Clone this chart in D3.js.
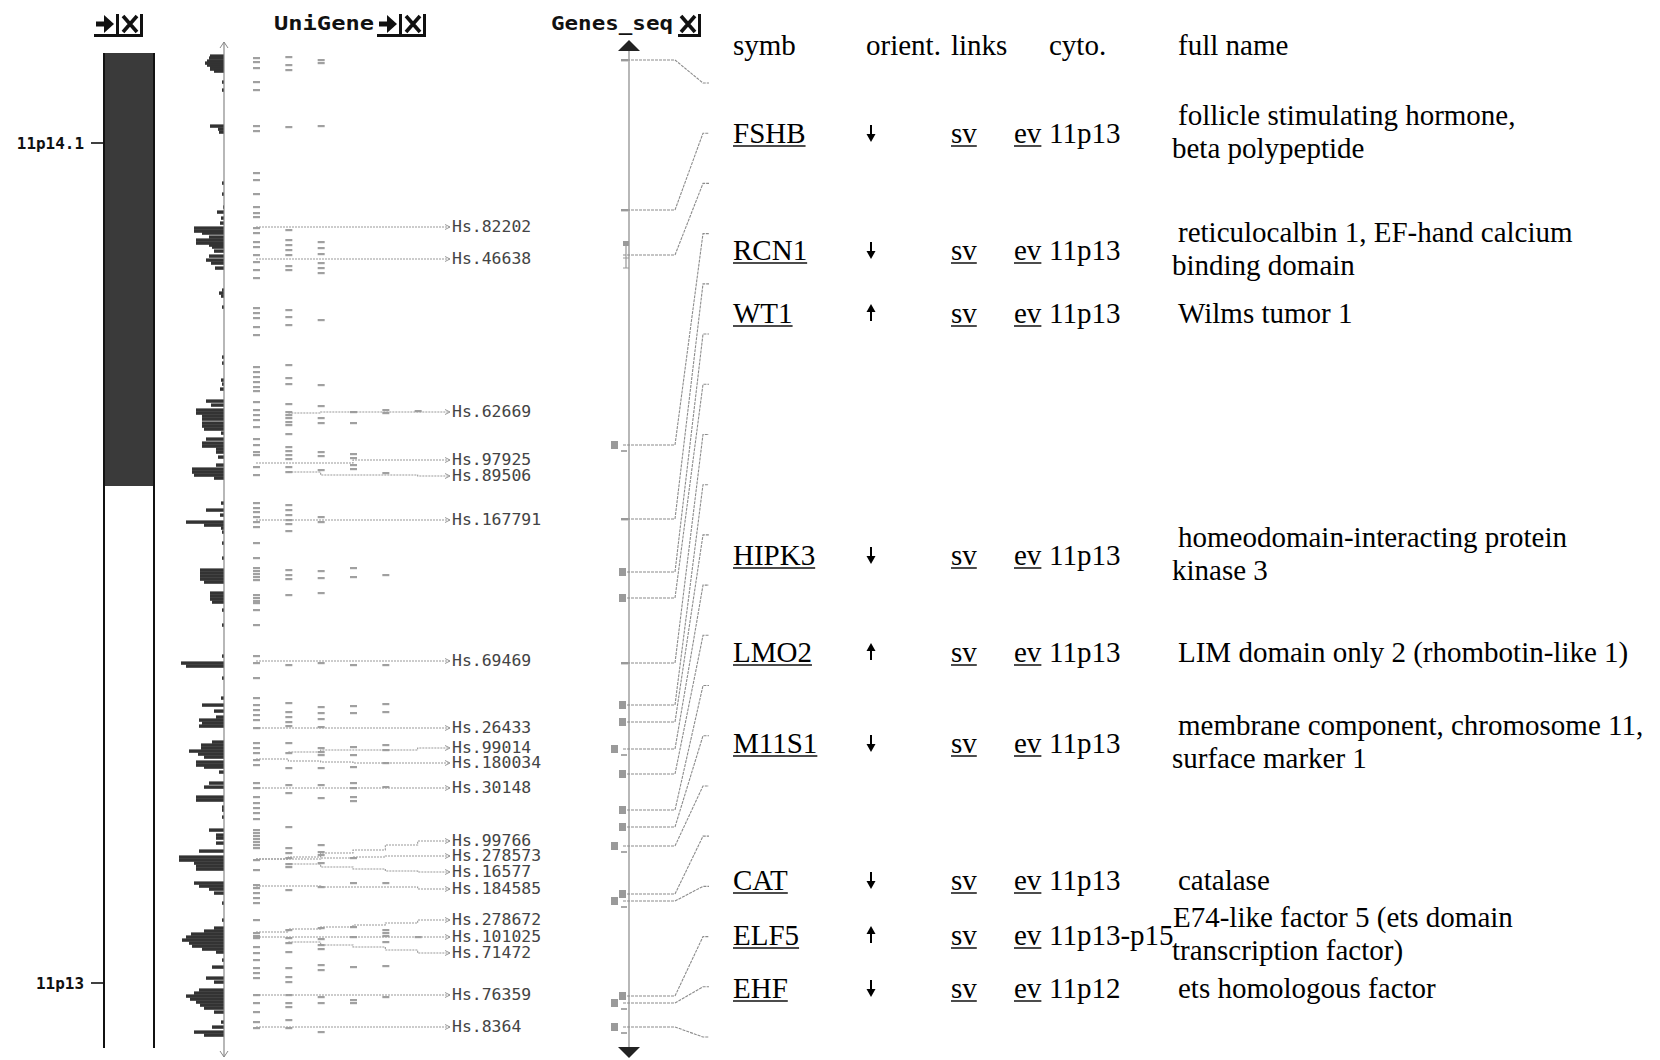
<!DOCTYPE html>
<html><head><meta charset="utf-8">
<script src="https://cdn.jsdelivr.net/npm/d3@7/dist/d3.min.js"></script>
<style>body{margin:0;background:#fff}svg{display:block}</style>
</head><body>
<svg id="c" width="1660" height="1060"></svg>
<script>
// ---------------- DATA (positions in map units along the region, top = 0) -------------
const chromStart = 11, chromEnd = 1006, darkBandEnd = 444;
const bandLabels = [{name: "11p14.1", pos: 101}, {name: "11p13", pos: 941}];

// EST density histogram: [position, count]
const estHistogram = [
 [14,14],[16,15],[19,17],[21,19],[23,17],[25,14],[27,14],[29,10],[40,2],[48,2],
 [84,14],[87,6],[90,5],[141,2],[152,2],[165,1],[170,7],[176,3],[181,4],
 [186,30],[189,30],[191,22],[195,15],[198,28],[201,28],[203,15],[205,12],[209,10],[214,15],[218,18],[221,13],[226,9],
 [248,2],[251,5],[254,3],[265,2],[315,2],[321,2],
 [338,3],[342,2],[347,4],[359,18],[363,13],[368,28],[371,28],[374,22],[377,22],[381,22],[384,22],[387,20],[391,3],
 [397,18],[401,22],[404,22],[407,8],[410,8],[415,6],[423,8],[427,32],[430,32],[433,30],[436,10],
 [461,3],[468,18],[473,4],[480,38],[483,20],[486,3],[490,2],[501,2],[516,2],
 [528,24],[531,24],[534,24],[537,24],[540,20],[551,14],[554,14],[557,14],[560,12],[568,2],[583,2],
 [614,2],[621,43],[624,38],[636,2],[656,3],[663,22],[669,10],[675,8],
 [678,25],[681,22],[684,25],[700,12],[703,23],[706,23],[709,35],[712,26],[715,20],[720,28],[723,28],[725,20],[730,5],
 [741,15],[745,20],[755,28],[758,28],[765,2],[768,2],[775,2],
 [788,15],[793,8],[796,8],[801,8],[809,25],[815,45],[818,45],[821,30],[824,28],[827,28],
 [841,30],[844,25],[847,15],[851,10],[861,2],[878,2],
 [886,10],[889,20],[892,33],[895,38],[898,42],[901,35],[904,32],[907,22],[910,8],
 [918,2],[925,12],[936,18],[940,10],
 [948,25],[951,30],[954,38],[957,34],[960,28],[963,24],[966,20],[970,10],
 [980,3],[985,12],[990,30],[993,20]
];

// UniGene exon-alignment marks, one list per column
const ugCol0 = [16,20,26,40,48,84,89,131,138,152,165,171,175,186,191,200,205,213,220,228,236,266,271,276,285,293,
 325,330,335,340,345,349,360,368,373,378,385,397,403,410,413,425,433,461,466,470,475,480,485,501,516,
 526,529,532,535,538,553,556,559,561,568,583,614,621,636,656,663,668,673,678,686,701,706,711,718,723,
 741,746,755,761,766,771,777,788,791,794,797,800,803,806,818,828,843,846,851,856,861,878,891,894,896,
 905,911,918,926,931,936,953,961,970,980,986];
const ugCol1 = [15,23,28,85,188,198,203,208,213,224,228,268,275,283,323,336,342,362,370,373,376,380,383,392,
 405,409,413,417,425,430,463,468,473,478,482,489,528,533,537,553,623,661,670,675,680,684,701,711,726,
 743,751,785,806,811,816,822,825,848,888,896,901,910,926,935,940,953,961,965,978,986];
const ugCol2 = [18,21,84,200,206,212,221,226,231,278,343,364,376,381,410,414,428,475,480,529,536,551,621,
 665,671,677,685,706,710,713,726,743,756,803,810,813,821,845,886,897,903,907,923,928,955,961,990];
const ugCol3 = [370,381,412,416,423,427,526,535,623,664,671,705,713,725,741,746,755,759,816,841,885,895,925,958,961];
const ugCol4 = [368,371,431,533,623,662,670,703,708,721,745,841,888,891,894,900,924,955];
const ugCol5 = [369,895];
const ugColumns = [ugCol0, ugCol1, ugCol2, ugCol3, ugCol4, ugCol5];

// UniGene clusters: label and the track position of each of the 6 segments (null = no alignment)
const clusterNames = ["Hs.82202","Hs.46638","Hs.62669","Hs.97925","Hs.89506","Hs.167791","Hs.69469",
 "Hs.26433","Hs.99014","Hs.180034","Hs.30148","Hs.99766","Hs.278573","Hs.16577","Hs.184585",
 "Hs.278672","Hs.101025","Hs.71472","Hs.76359","Hs.8364"];
const clusterSegments = [
 [185,185,185,185,185,185],
 [217,217,217,217,217,217],
 [null,371,370,370,370,370],
 [421,421,421,418,418,418],
 [null,430,433,433,433,434],
 [478,478,478,478,478,478],
 [619,619,619,619,619,619],
 [686,686,686,686,686,686],
 [null,710,708,708,708,706],
 [717,719,720,721,721,721],
 [746,746,746,746,746,746],
 [817,815,811,808,803,799],
 [817,817,816,815,814,814],
 [null,822,825,827,829,830],
 [844,844,845,845,845,847],
 [890,887,885,883,881,878],
 [895,895,895,895,895,895],
 [null,900,903,905,908,911],
 [953,953,953,953,953,953],
 [985,985,985,985,985,985]
];

// Genes_seq features: track position, glyph type; each links to a label slot in order
const geneFeatPos  = [18,168,213,403,477,530,556,621,663,680,707,732,768,785,804,852,859,954,961,985];
const geneFeatType = [0,0,3,2,0,1,1,0,1,1,2,1,1,1,2,1,2,1,2,2];

// Gene table
const tableHeaders = ["symb","orient.","links","cyto.","full name"];
const geneSymbols = ["FSHB","RCN1","WT1","HIPK3","LMO2","M11S1","CAT","ELF5","EHF"];
const geneOrient  = ["down","down","up","down","up","down","down","up","down"];
const geneCyto    = ["11p13","11p13","11p13","11p13","11p13","11p13","11p13","11p13-p15","11p12"];
const geneFullName = [
 ["follicle stimulating hormone,","beta polypeptide"],
 ["reticulocalbin 1, EF-hand calcium","binding domain"],
 ["Wilms tumor 1"],
 ["homeodomain-interacting protein","kinase 3"],
 ["LIM domain only 2 (rhombotin-like 1)"],
 ["membrane component, chromosome 11,","surface marker 1"],
 ["catalase"],
 ["E74-like factor 5 (ets domain","transcription factor)"],
 ["ets homologous factor"]
];
const geneRowPos = [91,208,271,513,610,701,838,893,946];

// ---------------- DRAWING ----------------
const svg = d3.select("#c");
const y = d3.scaleLinear().domain([0, 1015]).range([42, 1057]);

// track headers
const mono = "'DejaVu Sans Mono', monospace";
function closeIcon(x0, withArrow){
  const g = svg.append("g");
  let x = x0;
  if (withArrow){
    g.append("rect").attr("x",x+1).attr("y",21.5).attr("width",10).attr("height",5).attr("fill","#111");
    g.append("path").attr("d",`M${x+9},15 L${x+19},24 L${x+9},33 Z`).attr("fill","#111");
    g.append("rect").attr("x",x+21).attr("y",14).attr("width",3).attr("height",21).attr("fill","#111");
    x += 26;
  }
  g.append("path").attr("d",`M${x+2},16 L${x+16},32 M${x+16},16 L${x+2},32`)
    .attr("stroke","#111").attr("stroke-width",3.6).attr("fill","none");
  g.append("rect").attr("x",x+19).attr("y",14).attr("width",3).attr("height",21).attr("fill","#111");
  g.append("rect").attr("x",x0-1).attr("y",34).attr("width",x+23-x0).attr("height",3).attr("fill","#111");
}
closeIcon(95, true);
svg.append("text").attr("x",274).attr("y",30).attr("font-family",mono).attr("font-weight","bold")
  .attr("font-size",20).attr("textLength",100).attr("lengthAdjust","spacingAndGlyphs").attr("fill","#111").text("UniGene");
closeIcon(378, true);
svg.append("text").attr("x",551).attr("y",30).attr("font-family",mono).attr("font-weight","bold")
  .attr("font-size",20).attr("textLength",122).attr("lengthAdjust","spacingAndGlyphs").attr("fill","#111").text("Genes_seq");
closeIcon(679, false);

// ideogram
svg.append("rect").attr("x",103).attr("y",y(chromStart)).attr("width",52)
  .attr("height",y(darkBandEnd)-y(chromStart)).attr("fill","#3a3a3a");
[104,154].forEach(xx => svg.append("line").attr("x1",xx).attr("x2",xx)
  .attr("y1",y(chromStart)).attr("y2",y(chromEnd)).attr("stroke","#111").attr("stroke-width",2));
bandLabels.forEach(b => {
  svg.append("line").attr("x1",91).attr("x2",103).attr("y1",y(b.pos)).attr("y2",y(b.pos))
    .attr("stroke","#111").attr("stroke-width",1.6);
  const t = svg.append("text").attr("x",84).attr("y",y(b.pos)+6).attr("text-anchor","end")
    .attr("font-family",mono).attr("font-weight","bold").attr("font-size",15).attr("fill","#111")
    .attr("textLength", b.name.length * 9.6).attr("lengthAdjust","spacingAndGlyphs").text(b.name);
});

// EST histogram
const hx = d3.scaleLinear().domain([0, 50]).range([224, 174]);
svg.append("g").selectAll("rect").data(estHistogram).join("rect")
  .attr("x", d => hx(d[1])).attr("y", d => y(d[0]) - 1.6)
  .attr("width", d => hx(0) - hx(d[1])).attr("height", 3.4).attr("fill","#333");
svg.append("line").attr("x1",224).attr("x2",224).attr("y1",y(0)).attr("y2",y(1015))
  .attr("stroke","#888").attr("stroke-width",1.2);
svg.append("path").attr("d",`M220,${y(6)} L224,${y(0)} L228,${y(6)}`).attr("stroke","#888").attr("fill","none");
svg.append("path").attr("d",`M220,${y(1009)} L224,${y(1015)} L228,${y(1009)}`).attr("stroke","#888").attr("fill","none");

// UniGene columns
const xCol = d3.scaleLinear().domain([0, 6]).range([256, 450]);
ugColumns.forEach((col, ci) => {
  svg.append("g").selectAll("rect").data(col).join("rect")
    .attr("x", xCol(ci) - 3).attr("y", p => y(p) - 1).attr("width", 7).attr("height", 2.2)
    .attr("fill", "#a0a0a0");
});

// UniGene cluster lines + labels
const stepLine = d3.line().x(d => d[0]).y(d => d[1]).curve(d3.curveStepAfter);
clusterNames.forEach((name, i) => {
  const segs = clusterSegments[i];
  const pts = [];
  segs.forEach((v, si) => { if (v !== null) pts.push([xCol(si), y(v)]); });
  pts.push([xCol(6), y(segs[5])]);
  svg.append("path").attr("d", stepLine(pts)).attr("fill","none")
    .attr("stroke","#999").attr("stroke-width",1.1).attr("stroke-dasharray","2,1");
  const ly = y(segs[5]);
  svg.append("path").attr("d",`M${xCol(6)-5},${ly-2.5} L${xCol(6)},${ly} L${xCol(6)-5},${ly+2.5}`)
    .attr("fill","none").attr("stroke","#999").attr("stroke-width",1);
  svg.append("text").attr("x", xCol(6) + 2).attr("y", ly + 5)
    .attr("font-family", mono).attr("font-size", 15)
    .attr("textLength", name.length * 9.9).attr("lengthAdjust","spacingAndGlyphs")
    .attr("fill", "#444").text(name);
});

// Genes_seq track
const gx = 629;
svg.append("line").attr("x1",gx).attr("x2",gx).attr("y1",y(6)).attr("y2",y(1008))
  .attr("stroke","#888").attr("stroke-width",1.2);
svg.append("path").attr("d",`M${gx-11},${y(9)} L${gx},${y(-2)} L${gx+11},${y(9)} Z`).attr("fill","#222");
svg.append("path").attr("d",`M${gx-11},${y(1005)} L${gx},${y(1016)} L${gx+11},${y(1005)} Z`).attr("fill","#222");
const slot = d3.scaleLinear().domain([0, 19]).range([83, 1037]);
const conn = d3.line();
geneFeatPos.forEach((p, i) => {
  const yl = y(p), ys = slot(i);
  svg.append("path").attr("d", conn([[623, yl],[675, yl],[703, ys],[709, ys]]))
    .attr("fill","none").attr("stroke","#8c8c8c").attr("stroke-width",1.1).attr("stroke-dasharray","3,1");
  const t = geneFeatType[i];
  if (t === 0) svg.append("rect").attr("x",621).attr("y",yl-1).attr("width",7).attr("height",2.4).attr("fill","#999");
  if (t === 1) svg.append("rect").attr("x",619).attr("y",yl-4).attr("width",7).attr("height",8).attr("fill","#9a9a9a");
  if (t === 2) {
    svg.append("rect").attr("x",611).attr("y",yl-4).attr("width",7).attr("height",8).attr("fill","#9a9a9a");
    svg.append("rect").attr("x",621).attr("y",yl+5).attr("width",6).attr("height",2).attr("fill","#aaa");
  }
  if (t === 3) {
    svg.append("rect").attr("x",623).attr("y",yl-14).attr("width",6).attr("height",5).attr("fill","#9a9a9a");
    svg.append("path").attr("d",`M626,${yl-9} V${yl+13} M623,${yl+3} H629 M623,${yl+13} H629`)
      .attr("stroke","#999").attr("stroke-width",1.2).attr("fill","none");
  }
});

// Gene table
const serif = "'Liberation Serif', 'Times New Roman', serif";
const colX = d3.scaleOrdinal().domain(tableHeaders).range([733, 866, 951, 1049, 1178]);
const tfs = 29;
tableHeaders.forEach(h => {
  svg.append("text").attr("x", colX(h)).attr("y", 55).attr("font-family", serif)
    .attr("font-size", tfs).attr("fill","#000").text(h);
});
function uText(x, yb, s){
  const t = svg.append("text").attr("x", x).attr("y", yb).attr("font-family", serif)
    .attr("font-size", tfs).attr("fill","#000").text(s);
  const w = t.node().getComputedTextLength();
  svg.append("line").attr("x1", x).attr("x2", x + w).attr("y1", yb + 3).attr("y2", yb + 3)
    .attr("stroke","#111").attr("stroke-width",1.5);
}
geneSymbols.forEach((s, i) => {
  const yc = y(geneRowPos[i]);
  const yb = yc + 10;
  uText(colX("symb"), yb, s);
  // orientation arrow
  const ax = colX("orient.") + 5;
  if (geneOrient[i] === "down") {
    svg.append("line").attr("x1",ax).attr("x2",ax).attr("y1",yc-8).attr("y2",yc+3).attr("stroke","#000").attr("stroke-width",2);
    svg.append("path").attr("d",`M${ax-4.5},${yc+1} L${ax},${yc+9} L${ax+4.5},${yc+1} Z`).attr("fill","#000");
  } else {
    svg.append("line").attr("x1",ax).attr("x2",ax).attr("y1",yc-3).attr("y2",yc+8).attr("stroke","#000").attr("stroke-width",2);
    svg.append("path").attr("d",`M${ax-4.5},${yc-1} L${ax},${yc-9} L${ax+4.5},${yc-1} Z`).attr("fill","#000");
  }
  uText(colX("links"), yb, "sv");
  uText(1014, yb, "ev");
  svg.append("text").attr("x", colX("cyto.")).attr("y", yb).attr("font-family", serif)
    .attr("font-size", tfs).attr("fill","#000").text(geneCyto[i]);
  const fn = geneFullName[i];
  if (fn.length === 1) {
    svg.append("text").attr("x", colX("full name")).attr("y", yb).attr("font-family", serif)
      .attr("font-size", tfs).attr("fill","#000").text(fn[0]);
  } else {
    svg.append("text").attr("x", colX("full name") - (i === 7 ? 5 : 0)).attr("y", yb - 18).attr("font-family", serif)
      .attr("font-size", tfs).attr("fill","#000").text(fn[0]);
    svg.append("text").attr("x", colX("full name") - 6).attr("y", yb + 15).attr("font-family", serif)
      .attr("font-size", tfs).attr("fill","#000").text(fn[1]);
  }
});
</script>
</body></html>
